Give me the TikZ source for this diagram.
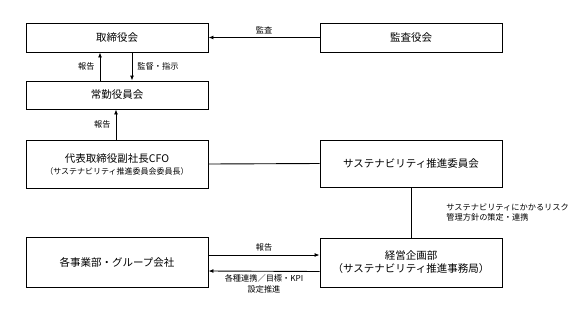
\documentclass[tikz,border=0pt]{standalone}
\usepackage{fontspec}
\setmainfont{Noto Sans CJK JP}
\usetikzlibrary{arrows.meta,calc,positioning}

\begin{document}
\begin{tikzpicture}[x=1pt,y=-1pt,>={Latex[length=5pt,width=4pt]},
 box/.style={draw,line width=.9pt,minimum width=182pt,align=center,inner sep=2pt,font=\fontsize{10.5}{13}\selectfont},
 lbl/.style={font=\fontsize{8.2}{10.5}\selectfont,inner sep=2pt},
 link/.style={line width=.9pt}]
\useasboundingbox (0,0) rectangle (580,311);
\node[box,minimum height=29pt] (board) at (117,37.5){取締役会};
\node[box,minimum height=29pt] (audit) at (411,37.5){監査役会};
\node[box,minimum height=28pt] (exec) at (117,95){常勤役員会};
\node[box,minimum height=48pt] (cfo) at (117,164)
 {代表取締役副社長CFO\\[-1pt]{\fontsize{8}{10}\selectfont （サステナビリティ推進委員会委員長）}};
\node[box,minimum height=47pt] (comm) at (411,163.5){サステナビリティ推進委員会};
\node[box,minimum height=49pt] (plan) at (411,262.5){経営企画部\\（サステナビリティ推進事務局）};
\node[box,minimum height=50pt] (units) at (117,262){各事業部・グループ会社};

\draw[link,->] (audit.west)--(board.east) node[lbl,midway,above=1pt]{監査};
\draw[link,->] ([xshift=-17pt]exec.north)--([xshift=-17pt]board.south)
 node[lbl,midway,left=3pt]{報告};
\draw[link,->] ([xshift=15pt]board.south)--([xshift=15pt]exec.north)
 node[lbl,midway,right=3pt]{監督・指示};
\draw[link,->] ([xshift=-1pt]cfo.north)--([xshift=-1pt]exec.south)
 node[lbl,midway,left=3pt]{報告};
\draw[link] (cfo.east)--(comm.west);
\draw[link] (comm.south)--(plan.north)
 node[lbl,midway,right=33pt,align=left]{サステナビリティにかかるリスク\\管理方針の策定・連携};
\draw[link,->] ([yshift=7pt]units.east)--([yshift=7.5pt]plan.west)
 node[lbl,midway,above=1pt]{報告};
\draw[link,->] ([yshift=-9pt]plan.west)--([yshift=-9pt]units.east)
 node[lbl,midway,below=1pt,align=center]{各種連携／目標・KPI\\設定推進};
\end{tikzpicture}
\end{document}
